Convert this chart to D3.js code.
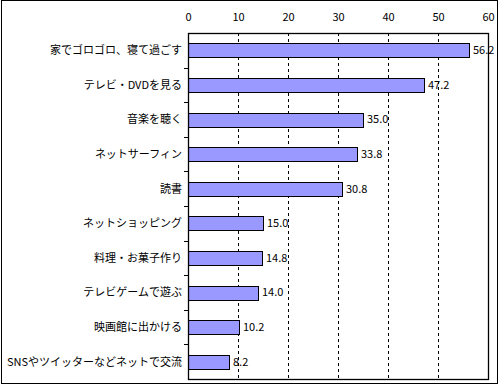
<!DOCTYPE html>
<html>
<head>
<meta charset="utf-8">
<script src="https://cdn.jsdelivr.net/npm/d3@7"></script>
<style>
  body { margin: 0; background: #fff; }
  text { font-family: "Noto Sans CJK JP", sans-serif; font-size: 11px; fill: #000; }
</style>
</head>
<body>
<svg id="chart"></svg>
<script>
// categories top to bottom
const categories = [
    "家でゴロゴロ、寝て過ごす",
    "テレビ・DVDを見る",
    "音楽を聴く",
    "ネットサーフィン",
    "読書",
    "ネットショッピング",
    "料理・お菓子作り",
    "テレビゲームで遊ぶ",
    "映画館に出かける",
    "SNSやツイッターなどネットで交流"
];
const values = [56.2, 47.2, 35.0, 33.8, 30.8, 15.0, 14.8, 14.0, 10.2, 8.2];
const xTicks = [0, 10, 20, 30, 40, 50, 60];

const W = 500, H = 385;
const margin = { top: 33, right: 12, bottom: 5, left: 188 };
const width = W - margin.left - margin.right;
const height = H - margin.top - margin.bottom - 1;

const svg = d3.select("#chart")
    .attr("width", W)
    .attr("height", H);

// outer frame of the picture
svg.append("rect")
    .attr("x", 1.5).attr("y", 0.5)
    .attr("width", 496).attr("height", 383)
    .attr("fill", "none")
    .attr("stroke", "#000");

const g = svg.append("g")
    .attr("transform", "translate(" + margin.left + "," + margin.top + ")");

const x = d3.scaleLinear().domain([0, 60]).range([0, width]);
const y = d3.scaleBand().domain(categories).range([0, height]).paddingInner(0).paddingOuter(0);

// dashed grid lines
g.selectAll(".grid")
    .data(xTicks.filter(d => d > 0 && d < 60))
    .enter().append("line")
    .attr("x1", d => Math.round(x(d)) + 0.5)
    .attr("x2", d => Math.round(x(d)) + 0.5)
    .attr("y1", 0)
    .attr("y2", height)
    .attr("stroke", "#000")
    .attr("stroke-dasharray", "3,3");

// top axis labels
const xAxis = g.append("g")
    .call(d3.axisTop(x).tickValues(xTicks).tickSize(0).tickPadding(12));
xAxis.select(".domain").remove();
xAxis.selectAll("text")
    .style("font-family", "'Noto Sans CJK JP', sans-serif")
    .style("font-size", "11px");

// left axis: small ticks on band borders, labels at centres
const bounds = d3.range(categories.length + 1).map(i => i * y.step());
g.selectAll(".ytick")
    .data(bounds.slice(1, -1))
    .enter().append("line")
    .attr("x1", -4).attr("x2", 0)
    .attr("y1", d => Math.round(d) + 0.5)
    .attr("y2", d => Math.round(d) + 0.5)
    .attr("stroke", "#000");

g.selectAll(".ylabel")
    .data(categories)
    .enter().append("text")
    .attr("x", -6)
    .attr("y", d => y(d) + y.bandwidth() / 2)
    .attr("dy", "0.35em")
    .attr("text-anchor", "end")
    .text(d => d);

// bars
const barH = 14;
g.selectAll(".bar")
    .data(values)
    .enter().append("rect")
    .attr("x", 0.5)
    .attr("y", (d, i) => Math.round(y(categories[i]) + y.bandwidth() / 2 - barH / 2) + 0.5)
    .attr("width", d => Math.round(x(d)))
    .attr("height", barH)
    .attr("fill", "#9999ff")
    .attr("stroke", "#000");

// value labels
g.selectAll(".val")
    .data(values)
    .enter().append("text")
    .attr("x", d => x(d) + 4)
    .attr("y", (d, i) => y(categories[i]) + y.bandwidth() / 2)
    .attr("dy", "0.35em")
    .text(d => d.toFixed(1));

// plot frame
g.append("rect")
    .attr("x", 0.5).attr("y", 0.5)
    .attr("width", width).attr("height", height)
    .attr("fill", "none")
    .attr("stroke", "#000")
    .attr("stroke-width", 1.3);
</script>
</body>
</html>
